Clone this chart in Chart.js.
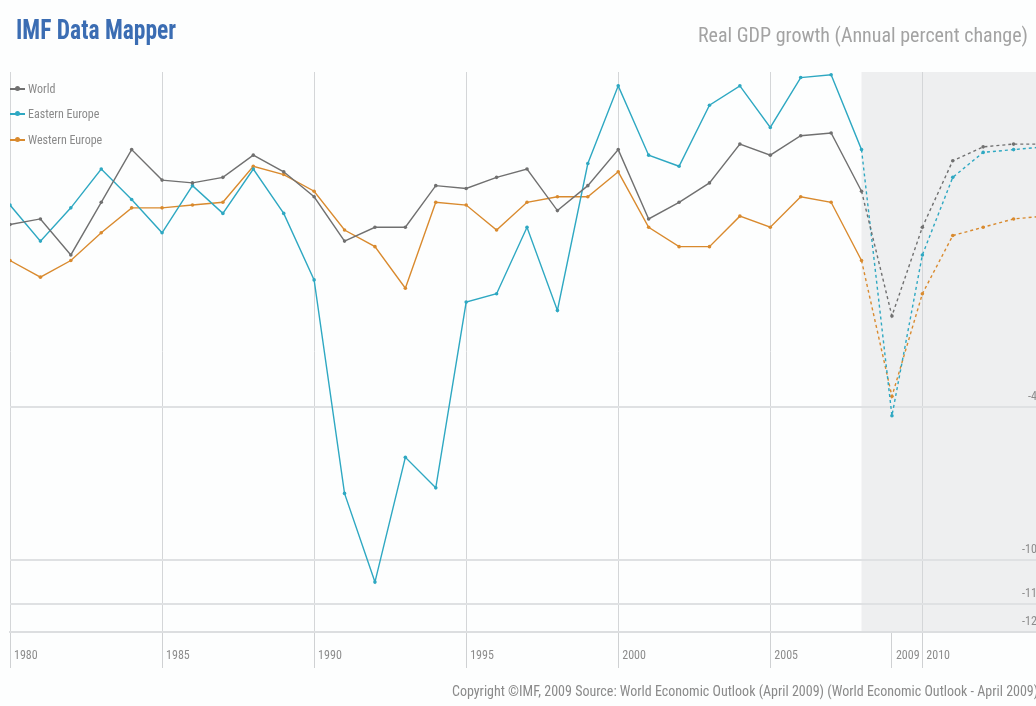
<!DOCTYPE html>
<html>
<head>
<meta charset="utf-8">
<script src="https://cdn.jsdelivr.net/npm/chart.js@4/dist/chart.umd.min.js"></script>
<style>
  html, body { margin: 0; padding: 0; background: #ffffff; overflow: hidden; }
  #wrap { position: relative; width: 1036px; height: 706px; overflow: hidden; background: #fdfefe; }
  #box { position: absolute; left: 0; top: 0; width: 1060px; height: 706px; }
  .narrow { font-family: 'Liberation Sans Narrow', 'Roboto Condensed', 'DejaVu Sans Condensed', 'Liberation Sans', sans-serif; }
  #brand { position: absolute; left: 16px; top: 13px; font-size: 28px; font-weight: bold; color: #3b6db3; white-space: nowrap; transform: scaleX(0.84); transform-origin: left top; }
  #subtitle { position: absolute; left: 698px; top: 23px; font-size: 20px; color: #a3a3a3; white-space: nowrap; }
  #footer { position: absolute; left: 452px; top: 683px; font-size: 14px; color: #8a8a8a; white-space: nowrap; }
  #legend { position: absolute; left: 10px; top: 76px; }
  .item { display: flex; align-items: center; height: 25.5px; font-size: 12px; color: #8a8a8a; }
  .swatch { position: relative; width: 15px; height: 2px; margin-right: 3px; }
  .swatch i { position: absolute; left: 5px; top: -2px; width: 5px; height: 5px; border-radius: 50%; background: inherit; }
</style>
</head>
<body>
<div id="wrap">
  <div id="box"><canvas id="chart"></canvas></div>
  <div id="brand" class="narrow">IMF Data Mapper</div>
  <div id="subtitle" class="narrow">Real GDP growth (Annual percent change)</div>
  <div id="legend" class="narrow"></div>
  <div id="footer" class="narrow">Copyright ©IMF, 2009 Source: World Economic Outlook (April 2009) (World Economic Outlook - April 2009)</div>
</div>
<script>
// Years covered, 1980 through the 2014 projection
const years = [1980,1981,1982,1983,1984,1985,1986,1987,1988,1989,
               1990,1991,1992,1993,1994,1995,1996,1997,1998,1999,
               2000,2001,2002,2003,2004,2005,2006,2007,2008,2009,
               2010,2011,2012,2013,2014];

// Real GDP growth, annual percent change
const world = [2.0,2.2,0.9,2.8,4.7,3.6,3.5,3.7,4.5,3.9,
               3.0,1.4,1.9,1.9,3.4,3.3,3.7,4.0,2.5,3.4,
               4.7,2.2,2.8,3.5,4.9,4.5,5.2,5.3,3.2,-1.3,
               1.9,4.3,4.8,4.9,4.9];
const easternEurope = [2.7,1.4,2.6,4.0,2.9,1.7,3.4,2.4,4.0,2.4,
                       0.0,-7.7,-10.9,-6.4,-7.5,-0.8,-0.5,1.9,-1.1,4.2,
                       7.0,4.5,4.1,6.3,7.0,5.5,7.3,7.4,4.7,-4.9,
                       0.9,3.7,4.6,4.7,4.8];
const westernEurope = [0.7,0.1,0.7,1.7,2.6,2.6,2.7,2.8,4.1,3.8,
                       3.2,1.8,1.2,-0.3,2.8,2.7,1.8,2.8,3.0,3.0,
                       3.9,1.9,1.2,1.2,2.3,1.9,3.0,2.8,0.7,-4.2,
                       -0.5,1.6,1.9,2.2,2.3];

// Axis ticks
const xTickYears = [1980,1985,1990,1995,2000,2005,2009,2010];
const yTickValues = [-12.7,-11.7,-10.1,-4.6];
const projectionStart = 2008;

const FONT = "'Liberation Sans Narrow', 'Roboto Condensed', 'DejaVu Sans Condensed', 'Liberation Sans', sans-serif";

const toPoints = vals => years.map((yr, i) => ({ x: yr, y: vals[i] }));

// Shaded band behind the projection years
const projectionShade = {
  id: 'projectionShade',
  beforeDraw(chart) {
    const { ctx, chartArea, scales } = chart;
    const x0 = scales.x.getPixelForValue(projectionStart);
    ctx.save();
    ctx.fillStyle = '#eeeff0';
    ctx.fillRect(x0, chartArea.top, chart.width - x0, chartArea.bottom - chartArea.top);
    ctx.restore();
  }
};

// Projected years are drawn dotted
const projDash = ctx => (ctx.p0.parsed.x >= projectionStart ? [3, 3] : undefined);

function series(label, vals, color) {
  return {
    label,
    data: toPoints(vals),
    borderColor: color,
    backgroundColor: color,
    borderWidth: 1.4,
    pointRadius: 1.8,
    pointHoverRadius: 3,
    pointBorderWidth: 0,
    tension: 0,
    segment: { borderDash: projDash }
  };
}

const chart = new Chart(document.getElementById('chart'), {
  type: 'line',
  data: {
    datasets: [
      series('World', world, '#707070'),
      series('Eastern Europe', easternEurope, '#2ea8c2'),
      series('Western Europe', westernEurope, '#d98a2e')
    ]
  },
  options: {
    responsive: true,
    maintainAspectRatio: false,
    animation: false,
    layout: { padding: { left: 10, right: 12, top: 72, bottom: 24 } },
    plugins: {
      legend: { display: false },
      tooltip: { enabled: false }
    },
    scales: {
      x: {
        type: 'linear',
        min: 1980,
        max: 2014,
        afterBuildTicks: axis => { axis.ticks = xTickYears.map(v => ({ value: v })); },
        afterFit: axis => { axis.height = 50; },
        ticks: {
          align: 'start',
          padding: -19,
          labelOffset: 4,
          maxRotation: 0,
          autoSkip: false,
          color: '#8c8c8c',
          font: { family: FONT, size: 12 },
          callback: v => String(v)
        },
        grid: {
          color: c => (c.tick && c.tick.value % 5 === 0 ? '#d4d6d8' : 'rgba(0,0,0,0)'),
          tickColor: '#cfd1d3',
          tickLength: 36,
          lineWidth: 1
        },
        border: { display: true, color: '#dcdee0', width: 2 }
      },
      y: {
        position: 'right',
        min: -12.7,
        max: 7.5,
        afterBuildTicks: axis => { axis.ticks = yTickValues.map(v => ({ value: v })); },
        ticks: {
          mirror: true,
          padding: 2,
          labelOffset: -10,
          color: '#8c8c8c',
          font: { family: FONT, size: 12 },
          callback: v => v.toFixed(1)
        },
        grid: { color: '#dfe1e3', lineWidth: 2, drawTicks: false },
        border: { display: false }
      }
    }
  },
  plugins: [projectionShade]
});

// Legend built from the chart's own datasets
const legend = document.getElementById('legend');
chart.data.datasets.forEach(ds => {
  const row = document.createElement('div');
  row.className = 'item';
  const sw = document.createElement('span');
  sw.className = 'swatch';
  sw.style.background = ds.borderColor;
  sw.appendChild(document.createElement('i'));
  row.appendChild(sw);
  row.appendChild(document.createTextNode(ds.label));
  legend.appendChild(row);
});
</script>
</body>
</html>
